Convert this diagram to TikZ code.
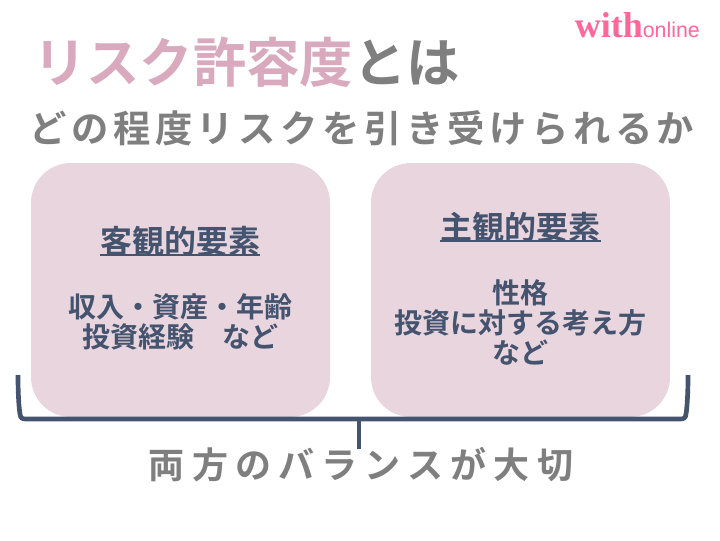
\documentclass[tikz,border=0pt]{standalone}
\usepackage{fontspec}
\setmainfont{Noto Sans CJK JP}[BoldFont={* Bold}]
\newfontfamily\logoserif{Liberation Serif}
\newfontfamily\logosans{Liberation Sans}
\definecolor{boxpink}{HTML}{E9D5DE}
\definecolor{titlepink}{HTML}{D9A9BE}
\definecolor{titlegray}{HTML}{7F7F7F}
\definecolor{navy}{HTML}{44546F}
\definecolor{logopink}{HTML}{FF6699}
\tikzset{
 px/.style={x=0.75pt,y=-0.75pt},
 panel/.style={fill=boxpink,rounded corners=30pt,draw=none,minimum width=224.25pt,minimum height=190.5pt,inner sep=0pt},
 txt/.style={inner sep=0pt},
 bodytxt/.style={txt,text=navy,align=center,font=\fontsize{21pt}{22.5pt}\selectfont\bfseries},
 headtxt/.style={txt,text=navy,font=\fontsize{24pt}{26pt}\selectfont\bfseries},
 bracketline/.style={navy,line width=3.5pt},
 headrule/.style={navy,line width=1.6pt},
}
\begin{document}
\begin{tikzpicture}[px]
\useasboundingbox (0,0) rectangle (720,540);
\fill[white] (0,0) rectangle (720,540);
\node[panel] (left) at (180.5,290) {};
\node[panel] (right) at (520.5,290) {};
\node[txt,anchor=west,font=\fontsize{40pt}{44pt}\selectfont\bfseries] (t1) at (33,62) {\textcolor{titlepink}{リスク許容度}\textcolor{titlegray}{とは}};
\node[txt,text=titlegray,font=\fontsize{28pt}{30pt}\selectfont\bfseries] (t2) at (362,128) {\addfontfeatures{LetterSpace=12}どの程度リスクを引き受けられるか};
\node[headtxt] (h1) at (180,241) {客観的要素};
\node[headtxt] (h2) at (520.5,227) {主観的要素};
\draw[headrule] ([yshift=-1.5pt]h1.base west) ++(0,0) -- ([yshift=-1.5pt]h1.base east);
\draw[headrule] ([yshift=-1.5pt]h2.base west) -- ([yshift=-1.5pt]h2.base east);
\node[bodytxt] (b1) at (180,322) {収入・資産・年齢\\投資経験　など};
\node[bodytxt] (b2) at (520.5,322) {性格\\投資に対する考え方\\など};
\node[txt,text=titlegray,font=\fontsize{27pt}{30pt}\selectfont\bfseries] (t3) at (361,465) {\addfontfeatures{LetterSpace=20}両方のバランスが大切};
\coordinate (bl) at (18,375);
\coordinate (br) at (688,375);
\coordinate (m) at (359,419);
\coordinate (mb) at (359,449);
\draw[bracketline] (bl) .. controls (18,395) and (19,408) .. (20,414) .. controls (20.5,418) and (22,419) .. (26,419) -- (680,419) .. controls (684,419) and (685.5,418) .. (686,414) .. controls (687,408) and (688,395) .. (br);
\draw[bracketline] (m) -- (mb);
\node[inner sep=0pt,anchor=east,text=logopink] (logo) at (700,25) {{\logoserif\bfseries\fontsize{27pt}{27pt}\selectfont with}{\logosans\fontsize{16pt}{16pt}\selectfont online}};
\end{tikzpicture}
\end{document}
